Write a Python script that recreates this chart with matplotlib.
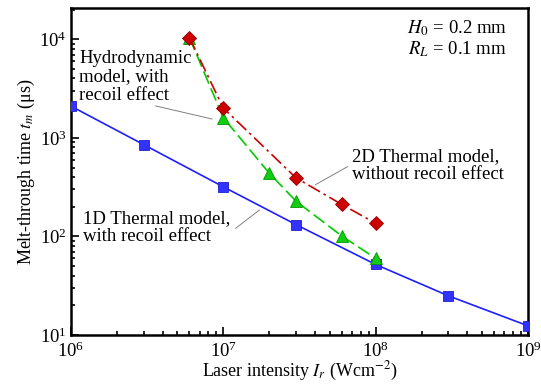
import matplotlib
matplotlib.use("Agg")
import matplotlib.pyplot as plt
from matplotlib.ticker import LogLocator, NullFormatter

plt.rcParams['font.family'] = ['Liberation Serif', 'DejaVu Serif']
plt.rcParams['mathtext.fontset'] = 'stix'

# 1D thermal model, with recoil effect
x_1d = [1e6, 3e6, 1e7, 3e7, 1e8, 3e8, 1e9]
y_1d = [2100, 855, 319, 132, 52, 25, 12.4]

# hydrodynamic model, with recoil effect
x_hydro = [6e6, 1e7, 2e7, 3e7, 6e7, 1e8]
y_hydro = [10400, 1600, 440, 228, 101, 60]

# 2D thermal model, without recoil effect
x_2d = [6e6, 1e7, 3e7, 6e7, 1e8]
y_2d = [10400, 2010, 393, 211, 136]

fig = plt.figure(figsize=(5.41, 3.86), dpi=100)
ax = fig.add_axes([0.131, 0.132, 0.845, 0.847])

ax.plot(x_1d, y_1d, color='#1f1fff', lw=1.2, marker='s', ms=7,
        markerfacecolor='#3333ff', markeredgecolor='#1f1fcc', markeredgewidth=0.6, zorder=3)
ax.plot(x_hydro, y_hydro, color='#00cc00', lw=1.2, ls=(0, (8, 3)), marker='^', ms=8,
        markerfacecolor='#11cc11', markeredgecolor='#009900', markeredgewidth=0.6, zorder=3)
ax.plot(x_2d, y_2d, color='#cc0000', lw=1.2, ls=(0, (8, 2.5, 1.5, 2.5)), marker='D', ms=7,
        markerfacecolor='#cc0000', markeredgecolor='#990000', markeredgewidth=0.6, zorder=4)

ax.set_xscale('log')
ax.set_yscale('log')
ax.set_xlim(1e6, 1e9)
ax.set_ylim(10, 2.07e4)

ax.xaxis.set_major_locator(LogLocator(base=10, numticks=10))
ax.xaxis.set_minor_locator(LogLocator(base=10, subs=range(2, 10), numticks=10))
ax.yaxis.set_major_locator(LogLocator(base=10, numticks=10))
ax.yaxis.set_minor_locator(LogLocator(base=10, subs=range(2, 10), numticks=10))
ax.xaxis.set_minor_formatter(NullFormatter())
ax.yaxis.set_minor_formatter(NullFormatter())

ax.tick_params(which='both', direction='in', top=False, right=False, labelsize=13.5, width=1.2)
ax.tick_params(which='major', length=6)
ax.tick_params(which='minor', length=3)
ax.tick_params(axis='x', pad=5)
ax.tick_params(axis='y', pad=3)
for s in ax.spines.values():
    s.set_linewidth(1.8)

ax.set_xlabel('Laser intensity $\\mathit{I_r}$ (Wcm$^{-2}$)', fontsize=13, labelpad=-1)
ax.set_ylabel('Melt-through time $\\mathit{t_m}$ (\u03bcs)', fontsize=13, labelpad=2)

fs = 13.5
line_kw = dict(arrowstyle='-', color='gray', lw=0.7)

ax.text(0.018, 0.872, 'Hydrodynamic\nmodel, with\nrecoil effect', transform=ax.transAxes,
        fontsize=fs, va='top', ha='left', linespacing=1.1)
ax.annotate('', xy=(8.8e6, 1530), xytext=(3.45e6, 2140), arrowprops=line_kw)

ax.text(0.616, 0.572, '2D Thermal model,\nwithout recoil effect', transform=ax.transAxes,
        fontsize=fs, va='top', ha='left', linespacing=1.1)
ax.annotate('', xy=(3.88e7, 324), xytext=(6.8e7, 528), arrowprops=line_kw)

ax.text(0.026, 0.382, '1D Thermal model,\nwith recoil effect', transform=ax.transAxes,
        fontsize=fs, va='top', ha='left', linespacing=1.1)
ax.annotate('', xy=(1.786e7, 193), xytext=(1.165e7, 116), arrowprops=line_kw)

ax.text(0.954, 0.968, '$\\mathit{H}_0$ = 0.2 mm\n$\\mathit{R_L}$ = 0.1 mm', transform=ax.transAxes,
        fontsize=13.5, va='top', ha='right', linespacing=1.1)

fig.savefig('out.png', dpi=100)
